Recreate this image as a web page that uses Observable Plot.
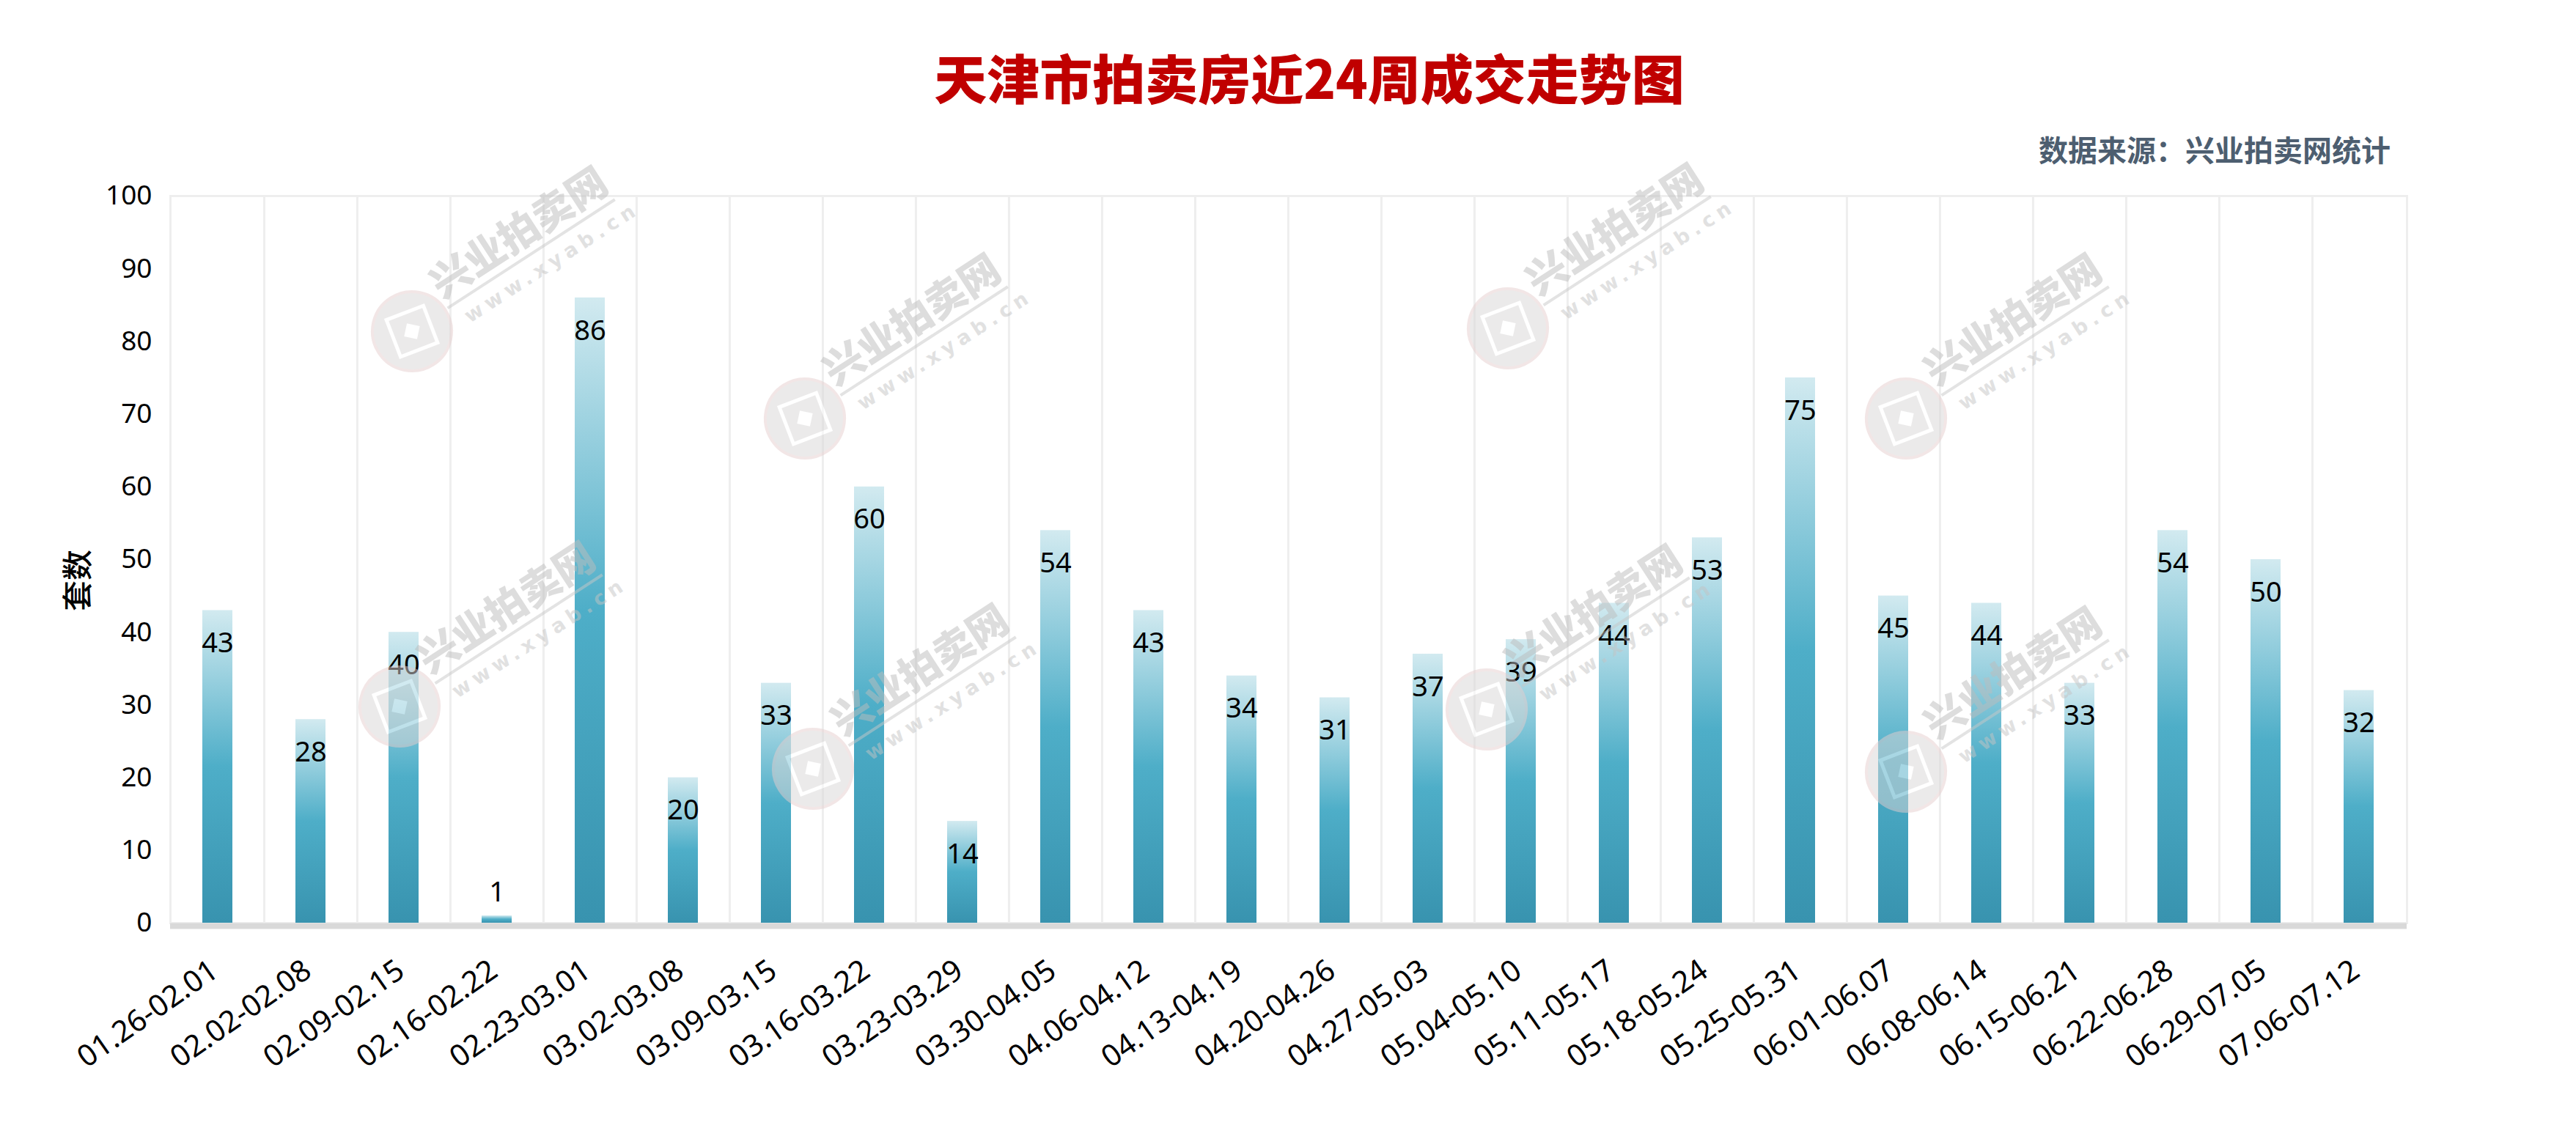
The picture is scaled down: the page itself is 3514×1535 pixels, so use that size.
<!DOCTYPE html>
<html><head><meta charset="utf-8">
<script src="https://cdn.jsdelivr.net/npm/d3@7"></script>
<script src="https://cdn.jsdelivr.net/npm/@observablehq/plot@0.6"></script>
<style>
html,body{margin:0;padding:0;background:#fff;width:3514px;height:1535px;overflow:hidden;}
#title{position:absolute;left:29px;width:3514px;top:68px;text-align:center;font:900 72px/72px "Noto Sans CJK SC",sans-serif;color:#c00000;}
#source{position:absolute;right:253px;top:183px;font:700 40px/40px "Noto Sans CJK SC",sans-serif;color:#4d5e70;}
#ylabel{position:absolute;left:103px;top:792px;transform:translate(-50%,-50%) rotate(-90deg);font:500 42px/42px "Noto Sans CJK SC",sans-serif;color:#000;white-space:nowrap;}
#chart{position:absolute;left:0;top:230px;}
#wm{position:absolute;left:0;top:0;pointer-events:none;}
</style></head><body>
<div id="title">天津市拍卖房近24周成交走势图</div>
<div id="source">数据来源：兴业拍卖网统计</div>
<div id="chart"></div>
<div id="ylabel"></div>
<script>
const weeks = ["01.26-02.01","02.02-02.08","02.09-02.15","02.16-02.22","02.23-03.01","03.02-03.08","03.09-03.15","03.16-03.22","03.23-03.29","03.30-04.05","04.06-04.12","04.13-04.19","04.20-04.26","04.27-05.03","05.04-05.10","05.11-05.17","05.18-05.24","05.25-05.31","06.01-06.07","06.08-06.14","06.15-06.21","06.22-06.28","06.29-07.05","07.06-07.12"];
const counts = [43,28,40,1,86,20,33,60,14,54,43,34,31,37,39,44,53,75,45,44,33,54,50,32];
const yTicks = [0,10,20,30,40,50,60,70,80,90,100];
const yLabel = "套数";

document.getElementById("ylabel").textContent = yLabel;
const data = weeks.map((w,i)=>({week:w,count:counts[i]}));
const W=3514,H=1305,ML=232,MR=231,MT=37,MB=276;
const step=(W-ML-MR)/weeks.length;
const font='"Noto Sans","Noto Sans CJK SC",sans-serif';
const chart = Plot.plot({
  width:W,height:H,marginLeft:ML,marginRight:MR,marginTop:MT,marginBottom:MB,
  style:{fontFamily:font,color:"#000",background:"transparent",overflow:"visible"},
  x:{type:"band",domain:weeks,paddingInner:0.677,paddingOuter:0.3385},
  y:{domain:[0,100]},
  marks:[
    Plot.frame({stroke:"#eeeeee",strokeWidth:3}),
    Plot.ruleX(weeks.slice(1),{x:d=>d,dx:-step/2,stroke:"#eeeeee",strokeWidth:3}),
    Plot.barY(data,{x:"week",y:"count",fill:"url(#barGrad)"}),
    Plot.ruleY([0],{stroke:"#d9d9d9",strokeWidth:8,dy:4}),
    Plot.text(data.filter(d=>d.count>=5),{x:"week",y:"count",text:d=>String(d.count),dy:45,fontSize:38,fill:"#000"}),
    Plot.text(data.filter(d=>d.count<5),{x:"week",y:"count",text:d=>String(d.count),dy:-32,fontSize:38,fill:"#000"}),
    Plot.axisY({ticks:yTicks,tickSize:0,tickPadding:25,fontSize:37,label:null}),
    Plot.axisX({tickRotate:-35,tickSize:0,tickPadding:60,dx:-4,fontSize:41,label:null})
  ]
});
const svg=d3.select(chart);
const grad=svg.insert("defs",":first-child").append("linearGradient")
  .attr("id","barGrad").attr("x1",0).attr("y1",0).attr("x2",0).attr("y2",1);
[[0,"#d2eaf0"],[0.5,"#4eaec8"],[1,"#3893af"]].forEach(([o,c])=>grad.append("stop").attr("offset",o).attr("stop-color",c));
document.getElementById("chart").appendChild(chart);

// decorative watermark overlay (not data)
const wmSpots=[[562,452],[1098,571],[545,964],[1109,1049],[2057,448],[2600,571],[2028,968],[2600,1053]];
const wm=d3.select("body").append("svg").attr("id","wm").attr("width",W).attr("height",1535);
wmSpots.forEach(([cx,cy])=>{
  const g=wm.append("g").attr("transform",`translate(${cx},${cy}) rotate(-33)`).attr("opacity",0.5);
  g.append("circle").attr("r",54).attr("fill","#d9d7d7").attr("stroke","#e6cfcf").attr("stroke-width",4);
  g.append("rect").attr("x",-27).attr("y",-27).attr("width",54).attr("height",54).attr("fill","none").attr("stroke","#fff").attr("stroke-width",5).attr("transform","rotate(12)");
  g.append("rect").attr("x",-9).attr("y",-9).attr("width",18).attr("height",18).attr("fill","#fff").attr("transform","rotate(45)");
  g.append("text").attr("x",58).attr("y",-14).attr("font-family","Noto Sans CJK SC").attr("font-weight",900).attr("font-size",55).attr("fill","#bdbdbd").text("兴业拍卖网");
  g.append("line").attr("x1",58).attr("x2",330).attr("y1",0).attr("y2",0).attr("stroke","#c8c8c8").attr("stroke-width",4);
  g.append("text").attr("x",72).attr("y",34).attr("font-family","DejaVu Sans").attr("font-weight",700).attr("font-size",27).attr("letter-spacing",7).attr("fill","#c4c4c4").text("www.xyab.cn");
});
</script>
</body></html>
